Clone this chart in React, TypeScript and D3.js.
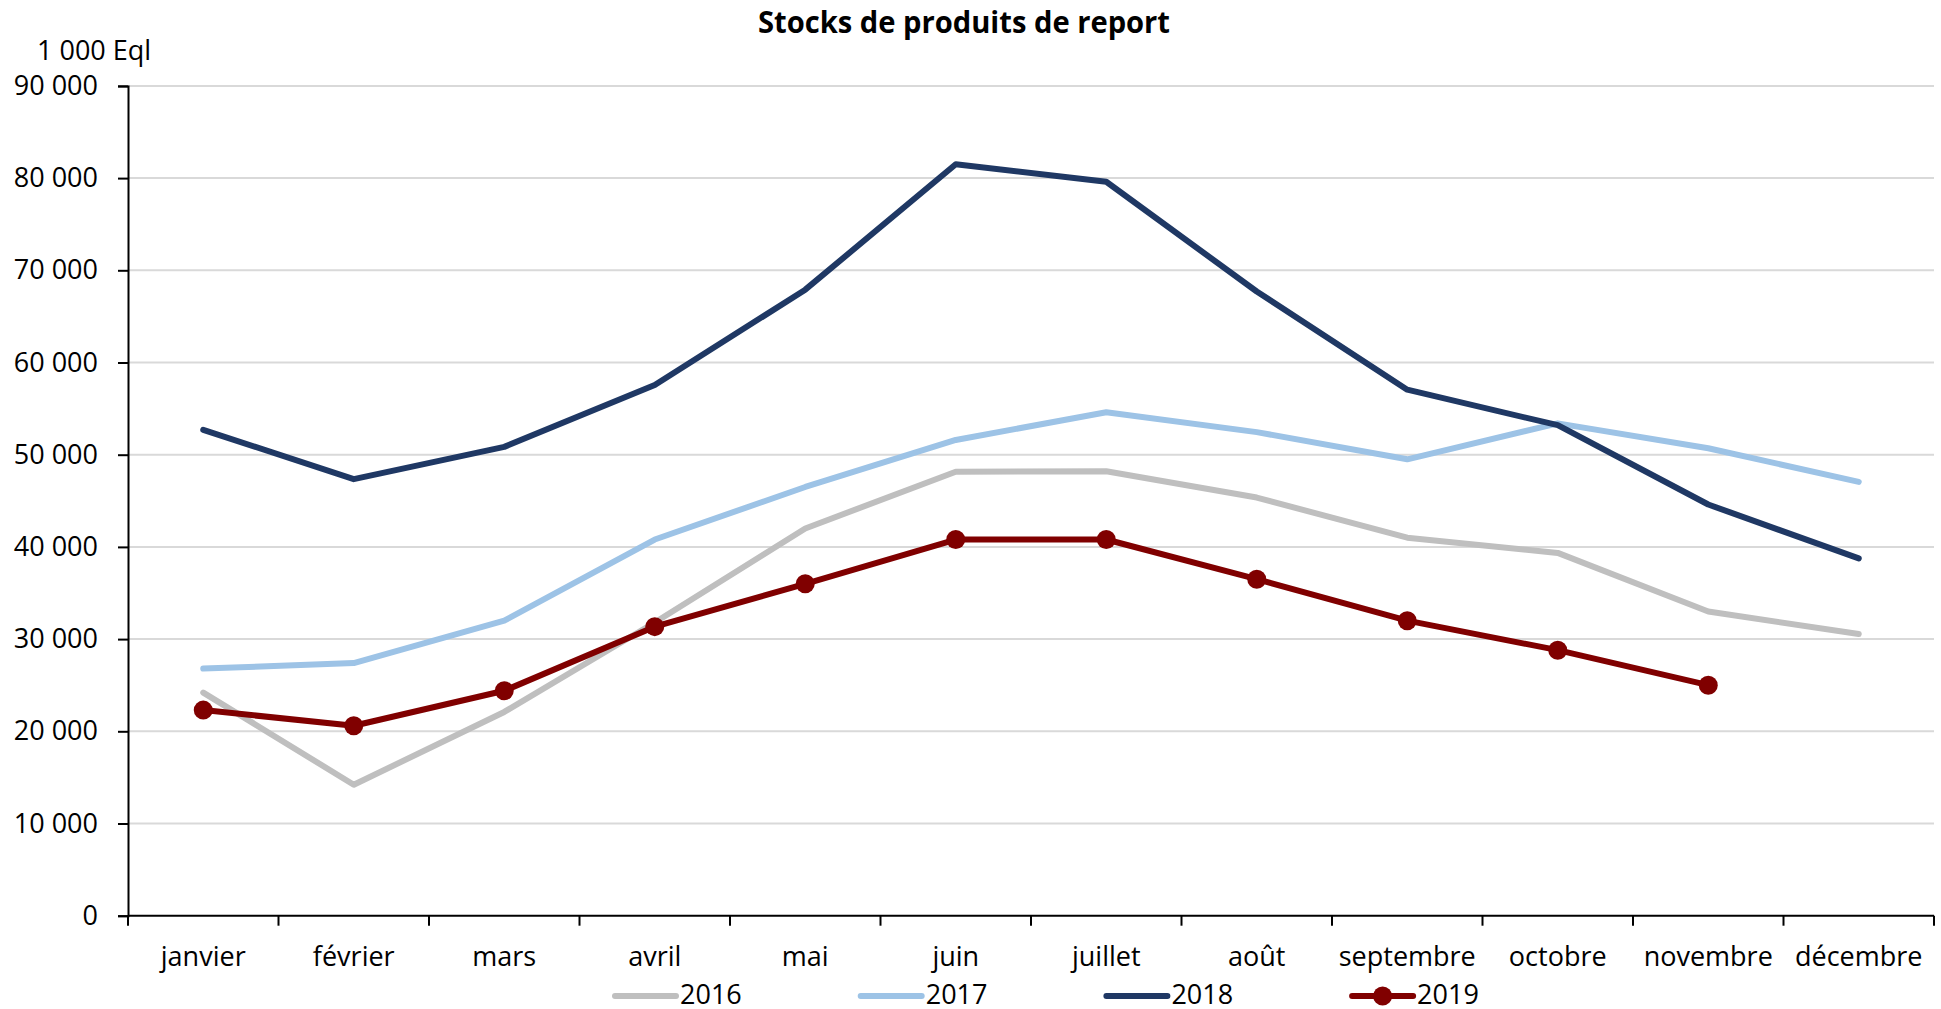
import React, { useEffect, useRef } from "react";
import * as d3 from "d3";

const months = [
  "janvier",
  "février",
  "mars",
  "avril",
  "mai",
  "juin",
  "juillet",
  "août",
  "septembre",
  "octobre",
  "novembre",
  "décembre",
];

const values2016 = [24200, 14200, 22100, 31800, 42000, 48150, 48200, 45350, 41000, 39350, 33000, 30550];
const values2017 = [26800, 27400, 32000, 40800, 46500, 51600, 54600, 52450, 49500, 53400, 50700, 47050];
const values2018 = [52700, 47350, 50850, 57550, 67900, 81500, 79600, 67700, 57050, 53200, 44600, 38750];
const values2019 = [22300, 20600, 24400, 31350, 36000, 40800, 40800, 36500, 32000, 28800, 25000];

const yTicks = [0, 10000, 20000, 30000, 40000, 50000, 60000, 70000, 80000, 90000];
const yTickLabels = ["0", "10 000", "20 000", "30 000", "40 000", "50 000", "60 000", "70 000", "80 000", "90 000"];

const seriesNames = ["2016", "2017", "2018", "2019"];
const seriesColors = ["#BFBFBF", "#9DC3E6", "#1F3864", "#800000"];

const FONT = "'Open Sans', sans-serif";

function Chart() {
  const ref = useRef<SVGSVGElement | null>(null);

  useEffect(() => {
    draw();
  }, []);

  function draw() {
    const svg = d3.select(ref.current);
    svg.selectAll("*").remove();

    const left = 128;
    const right = 1934;
    const top = 85.9;
    const bottom = 915.7;

    const x = d3.scaleBand<string>().domain(months).range([left, right]).padding(0);
    const y = d3.scaleLinear().domain([0, 90000]).range([bottom, top]);
    const cx = (m: string) => (x(m) as number) + x.bandwidth() / 2;

    // title
    svg
      .append("text")
      .attr("x", 964)
      .attr("y", 33)
      .attr("text-anchor", "middle")
      .attr("font-family", FONT)
      .attr("font-weight", "bold")
      .attr("font-size", 30)
      .attr("textLength", 412)
      .attr("lengthAdjust", "spacingAndGlyphs")
      .text("Stocks de produits de report");

    // unit
    svg
      .append("text")
      .attr("x", 37)
      .attr("y", 60)
      .attr("font-family", FONT)
      .attr("font-size", 27)
      .text("1 000 Eql");

    // gridlines
    svg
      .append("g")
      .selectAll("line")
      .data(yTicks.filter((t) => t > 0))
      .enter()
      .append("line")
      .attr("x1", left)
      .attr("x2", right)
      .attr("y1", (d) => y(d))
      .attr("y2", (d) => y(d))
      .attr("stroke", "#D9D9D9")
      .attr("stroke-width", 2);

    // y axis
    const yAxis = d3
      .axisLeft(y)
      .tickValues(yTicks)
      .tickSize(10)
      .tickPadding(20)
      .tickFormat((_, i) => yTickLabels[i]);
    const gy = svg.append("g").attr("transform", `translate(${left},0)`).call(yAxis);
    gy.select(".domain").attr("stroke", "#000").attr("stroke-width", 2);
    gy.selectAll(".tick line").attr("stroke", "#000").attr("stroke-width", 2);
    gy.selectAll(".tick text")
      .attr("font-family", FONT)
      .attr("font-size", 27)
      .attr("fill", "#000");

    // x axis
    const gx = svg.append("g").attr("transform", `translate(0,${bottom})`);
    gx.append("line")
      .attr("x1", left)
      .attr("x2", right)
      .attr("stroke", "#000")
      .attr("stroke-width", 2);
    const edges = months.map((m) => x(m) as number).concat([right]);
    gx.selectAll("line.tk")
      .data(edges)
      .enter()
      .append("line")
      .attr("class", "tk")
      .attr("x1", (d) => d)
      .attr("x2", (d) => d)
      .attr("y1", 0)
      .attr("y2", 10)
      .attr("stroke", "#000")
      .attr("stroke-width", 2);
    gx.selectAll("text")
      .data(months)
      .enter()
      .append("text")
      .attr("x", (d) => cx(d))
      .attr("y", 50)
      .attr("text-anchor", "middle")
      .attr("font-family", FONT)
      .attr("font-size", 27)
      .attr("fill", "#000")
      .text((d) => d);

    // lines
    const allSeries = [values2016, values2017, values2018, values2019];
    const line = d3
      .line<number>()
      .x((_, i) => cx(months[i]))
      .y((d) => y(d));

    allSeries.forEach((vals, si) => {
      svg
        .append("path")
        .datum(vals)
        .attr("d", line)
        .attr("fill", "none")
        .attr("stroke", seriesColors[si])
        .attr("stroke-width", 6)
        .attr("stroke-linejoin", "round")
        .attr("stroke-linecap", "round");
    });

    svg
      .append("g")
      .selectAll("circle")
      .data(values2019)
      .enter()
      .append("circle")
      .attr("cx", (_, i) => cx(months[i]))
      .attr("cy", (d) => y(d))
      .attr("r", 9.5)
      .attr("fill", seriesColors[3]);

    // legend
    const legend = svg.append("g");
    seriesNames.forEach((name, i) => {
      const lx = 615 + i * 245.7;
      const ly = 996;
      legend
        .append("line")
        .attr("x1", lx)
        .attr("x2", lx + 61)
        .attr("y1", ly)
        .attr("y2", ly)
        .attr("stroke", seriesColors[i])
        .attr("stroke-width", 6)
        .attr("stroke-linecap", "round");
      if (i === 3) {
        legend
          .append("circle")
          .attr("cx", lx + 30.5)
          .attr("cy", ly)
          .attr("r", 9.5)
          .attr("fill", seriesColors[i]);
      }
      legend
        .append("text")
        .attr("x", lx + 65)
        .attr("y", 1004)
        .attr("font-family", FONT)
        .attr("font-size", 27)
        .text(name);
    });
  }

  return (
    <svg
      ref={ref}
      width={1941}
      height={1009}
      style={{ position: "absolute", left: 0, top: 0, background: "#fff" }}
    />
  );
}

export default function App() {
  return <Chart />;
}
